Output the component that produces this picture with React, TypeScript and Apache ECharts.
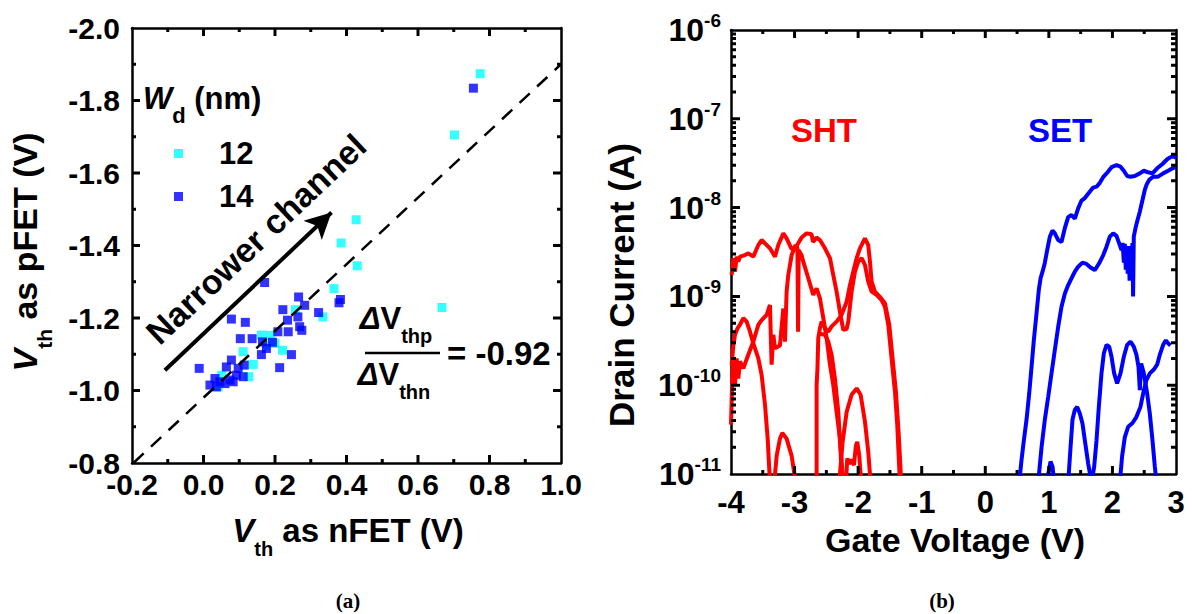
import { useEffect, useRef } from "react";
import * as echarts from "echarts";

type P = [number, number];

const FONT = "'Liberation Sans', Arial, Helvetica, sans-serif";
const SERIF = "'Liberation Serif', 'Times New Roman', serif";

// ---- tick values and labels ----
const nfetTickValues = [-0.2, 0.0, 0.2, 0.4, 0.6, 0.8, 1.0];
const nfetTicks = ["-0.2", "0.0", "0.2", "0.4", "0.6", "0.8", "1.0"];
const nfetMinor = [-0.1, 0.1, 0.3, 0.5, 0.7, 0.9];
const pfetTickValues = [-2.0, -1.8, -1.6, -1.4, -1.2, -1.0, -0.8];
const pfetTicks = ["-2.0", "-1.8", "-1.6", "-1.4", "-1.2", "-1.0", "-0.8"];
const pfetMinor = [-1.9, -1.7, -1.5, -1.3, -1.1, -0.9];
const gateTickValues = [-4, -3, -2, -1, 0, 1, 2, 3];
const gateTicks = ["-4", "-3", "-2", "-1", "0", "1", "2", "3"];
const gateMinor = [-3.5, -2.5, -1.5, -0.5, 0.5, 1.5, 2.5];
const currentTickValues = [1e-11, 1e-10, 1e-9, 1e-8, 1e-7, 1e-6];
const currentExponents = ["-11", "-10", "-9", "-8", "-7", "-6"];
const currentMinor: number[] = [];
for (let e = -11; e < -6; e++) for (let k = 2; k <= 9; k++) currentMinor.push(k * Math.pow(10, e));

// ---- panel (a): Vth as nFET vs Vth as pFET ----
const wd12: P[] = [
  [0.774, -1.874], [0.702, -1.705], [0.427, -1.471], [0.385, -1.407], [0.43, -1.344],
  [0.365, -1.281], [0.667, -1.229], [0.334, -1.203], [0.257, -1.223], [0.162, -1.153],
  [0.187, -1.152], [0.111, -1.107], [0.221, -1.111], [0.139, -1.072], [0.127, -1.038],
  [0.041, -1.01], [0.051, -1.042], [0.176, -1.125], [0.2, -1.13],
];
const wd14: P[] = [
  [0.755, -1.834], [0.171, -1.298], [0.266, -1.258], [0.283, -1.235], [0.222, -1.223],
  [0.322, -1.215], [0.383, -1.251], [0.379, -1.242], [0.078, -1.197], [0.117, -1.188],
  [0.235, -1.194], [0.264, -1.203], [0.269, -1.176], [0.275, -1.166], [0.237, -1.162],
  [0.208, -1.162], [0.103, -1.143], [0.136, -1.143], [0.165, -1.134], [0.193, -1.133],
  [0.176, -1.116], [0.162, -1.099], [0.246, -1.099], [0.213, -1.063], [-0.012, -1.061],
  [0.078, -1.084], [0.064, -1.065], [0.097, -1.061], [0.114, -1.07], [0.092, -1.042],
  [0.111, -1.038], [0.032, -1.033], [0.046, -1.024], [0.018, -1.015], [0.06, -1.019],
  [0.083, -1.024], [0.074, -1.029], [0.036, -1.01],
];
const fitLine: P[] = [[-0.196, -0.8], [1.0, -1.9]];
const narrowerArrow: P[] = [[-0.108, -1.056], [0.358, -1.491]];

// ---- panel (b): drain current vs gate voltage ----
const shtA: P[] = [
  [-3.99, 1.74e-9], [-3.963, 2.69e-9], [-3.937, 1.9e-9], [-3.911, 2.8e-9], [-3.885, 2.46e-9],
  [-3.858, 2.8e-9], [-3.78, 2.92e-9], [-3.728, 3.05e-9], [-3.649, 2.8e-9], [-3.57, 3.79e-9],
  [-3.518, 4.31e-9], [-3.465, 3.96e-9], [-3.387, 3.48e-9], [-3.308, 2.8e-9], [-3.256, 3.79e-9],
  [-3.177, 5.13e-9], [-3.125, 4.51e-9], [-3.046, 3.4e-9], [-2.967, 3.7e-9], [-2.889, 4.6e-9],
  [-2.81, 5.13e-9], [-2.732, 5.0e-9], [-2.71, 4.1e-9], [-2.653, 4.6e-9], [-2.601, 4.31e-9],
  [-2.522, 3.48e-9], [-2.443, 2.69e-9], [-2.391, 1.74e-9], [-2.339, 1.13e-9], [-2.286, 6.7e-10],
  [-2.234, 4.2e-10], [-2.181, 4.3e-10], [-2.155, 5.2e-10], [-2.103, 1.13e-9], [-2.05, 1.9e-9],
  [-1.998, 2.46e-9], [-1.945, 2.69e-9], [-1.893, 2.26e-9], [-1.841, 1.47e-9], [-1.788, 1.13e-9],
  [-1.71, 1.04e-9], [-1.631, 9.1e-10], [-1.579, 7.65e-10], [-1.526, 4.8e-10], [-1.474, 2.0e-10],
  [-1.421, 8.5e-11], [-1.385, 3.6e-11], [-1.343, 8e-12],
];
const shtB: P[] = [
  [-4.0, 3.6e-11], [-3.979, 1.3e-10], [-3.963, 2.0e-10], [-3.937, 1.0e-10], [-3.911, 2.0e-10],
  [-3.885, 1.19e-10], [-3.858, 1.85e-10], [-3.806, 1.55e-10], [-3.728, 2.2e-10], [-3.649, 3.1e-10],
  [-3.57, 4.8e-10], [-3.518, 5.4e-10], [-3.439, 6.2e-10], [-3.387, 8.0e-10], [-3.361, 1.7e-10],
  [-3.334, 3.7e-10], [-3.308, 2.6e-10], [-3.23, 2.8e-10], [-3.177, 7.3e-10], [-3.151, 3.1e-10],
  [-3.125, 1.13e-9], [-3.099, 1.74e-9], [-3.046, 2.92e-9], [-2.983, 3.79e-9], [-2.955, 3.5e-9],
  [-2.945, 4.0e-10], [-2.935, 3.3e-9], [-2.89, 2.9e-9], [-2.863, 2.46e-9], [-2.784, 1.6e-9],
  [-2.706, 1.04e-9], [-2.653, 1.23e-9], [-2.601, 9.5e-10], [-2.548, 5.7e-10], [-2.496, 3.4e-10],
  [-2.443, 1.7e-10], [-2.391, 1.0e-10], [-2.339, 5.0e-11], [-2.286, 2.5e-11], [-2.234, 8e-12],
];
const shtC: P[] = [
  [-3.99, 1.7e-10], [-3.963, 2.8e-10], [-3.937, 3.7e-10], [-3.895, 4.4e-10], [-3.858, 4.8e-10],
  [-3.806, 5.7e-10], [-3.754, 5.2e-10], [-3.701, 4.0e-10], [-3.649, 2.95e-10], [-3.57, 2.0e-10],
  [-3.518, 1.3e-10], [-3.465, 6.0e-11], [-3.423, 2.5e-11], [-3.387, 8e-12],
];
const shtD: P[] = [
  [-3.319, 8e-12], [-3.282, 1.6e-11], [-3.23, 2.5e-11], [-3.193, 2.9e-11], [-3.125, 2.5e-11],
  [-3.046, 1.6e-11], [-2.983, 8e-12],
];
const shtE: P[] = [
  [-2.653, 8e-12], [-2.653, 1.0e-10], [-2.64, 1.55e-10], [-2.627, 3.4e-10], [-2.601, 4.4e-10],
  [-2.574, 5.2e-10], [-2.522, 4.4e-10], [-2.47, 4.0e-10], [-2.417, 4.6e-10], [-2.339, 5.2e-10],
  [-2.26, 6.2e-10], [-2.181, 8.7e-10], [-2.129, 1.34e-9], [-2.077, 1.9e-9], [-2.024, 2.69e-9],
  [-1.972, 3.48e-9], [-1.893, 4.51e-9], [-1.841, 3.79e-9], [-1.814, 2.46e-9], [-1.788, 1.47e-9],
  [-1.736, 1.13e-9], [-1.657, 9.9e-10], [-1.579, 8.4e-10], [-1.51, 4.8e-10], [-1.458, 2.0e-10],
  [-1.406, 8.5e-11], [-1.364, 3.0e-11], [-1.322, 8e-12],
];
const shtF: P[] = [
  [-2.61, 3.8e-10], [-2.522, 3.7e-10], [-2.47, 3.1e-10], [-2.417, 2.2e-10], [-2.365, 1.19e-10],
  [-2.312, 5.0e-11], [-2.276, 1.78e-11], [-2.254, 8e-12],
];
const shtG: P[] = [
  [-2.297, 8e-12], [-2.244, 2.3e-11], [-2.181, 5.0e-11], [-2.103, 7.8e-11], [-2.024, 9.2e-11],
  [-1.961, 7.8e-11], [-1.893, 3.9e-11], [-1.841, 1.78e-11], [-1.804, 8e-12],
];
const shtH: P[] = [
  [-2.192, 8e-12], [-2.171, 1.5e-11], [-2.139, 1.3e-11], [-2.103, 1.45e-11], [-2.066, 1.26e-11],
  [-2.035, 2.1e-11], [-2.014, 2.3e-11], [-1.982, 1.6e-11], [-1.951, 8e-12],
];

const setA: P[] = [
  [0.534, 8e-12], [0.57, 1.44e-11], [0.607, 2.4e-11], [0.649, 4.1e-11], [0.691, 8.1e-11],
  [0.728, 1.62e-10], [0.764, 3.23e-10], [0.806, 6.44e-10], [0.843, 1.2e-9], [0.87, 1.6e-9],
  [0.905, 1.95e-9], [0.937, 2.4e-9], [0.974, 3.33e-9], [1.016, 4.71e-9], [1.058, 5.5e-9],
  [1.094, 5.13e-9], [1.147, 4.31e-9], [1.199, 4.1e-9], [1.252, 5.9e-9], [1.304, 7.8e-9],
  [1.356, 8.26e-9], [1.409, 7.5e-9], [1.461, 9.8e-9], [1.514, 1.2e-8], [1.566, 1.28e-8],
  [1.618, 1.43e-8], [1.697, 1.68e-8], [1.75, 1.72e-8], [1.802, 1.9e-8], [1.854, 2.2e-8],
  [1.917, 2.47e-8], [1.986, 2.85e-8], [2.064, 3.0e-8], [2.127, 2.89e-8], [2.179, 2.6e-8],
  [2.232, 2.27e-8], [2.284, 2.23e-8], [2.352, 2.27e-8], [2.431, 2.43e-8], [2.494, 2.6e-8],
  [2.562, 2.5e-8], [2.63, 2.43e-8], [2.703, 2.77e-8], [2.787, 3.1e-8], [2.861, 3.5e-8],
  [2.929, 3.75e-8], [2.981, 3.75e-8], [3.0, 3.6e-8],
];
const setB: P[] = [
  [0.832, 8e-12], [0.885, 2.0e-11], [0.937, 4.1e-11], [0.99, 7.4e-11], [1.042, 1.36e-10],
  [1.094, 2.49e-10], [1.147, 4.56e-10], [1.199, 7.65e-10], [1.252, 1.08e-9], [1.304, 1.34e-9],
  [1.356, 1.6e-9], [1.409, 1.9e-9], [1.461, 2.16e-9], [1.529, 2.4e-9], [1.592, 2.32e-9],
  [1.655, 2.12e-9], [1.723, 1.98e-9], [1.791, 2.36e-9], [1.854, 2.9e-9], [1.907, 3.63e-9],
  [1.959, 4.71e-9], [2.012, 5.13e-9], [2.064, 4.8e-9], [2.106, 3.96e-9], [2.143, 3.33e-9],
  [2.16, 4.0e-9], [2.18, 2.4e-9], [2.195, 3.9e-9], [2.21, 2.0e-9], [2.225, 3.7e-9],
  [2.24, 1.8e-9], [2.255, 3.6e-9], [2.27, 1.5e-9], [2.285, 3.7e-9], [2.3, 1.6e-9],
  [2.315, 4.0e-9], [2.325, 1.0e-9], [2.336, 4.71e-9], [2.368, 6.1e-9], [2.394, 7.2e-9],
  [2.431, 9.0e-9], [2.473, 1.22e-8], [2.509, 1.58e-8], [2.536, 1.8e-8], [2.578, 2.05e-8],
  [2.64, 2.23e-8], [2.719, 2.23e-8], [2.798, 2.43e-8], [2.876, 2.6e-8], [2.945, 2.77e-8],
  [3.0, 2.85e-8],
];
const setC: P[] = [
  [1.304, 8e-12], [1.341, 2.0e-11], [1.372, 4.1e-11], [1.409, 5.3e-11], [1.446, 5.7e-11],
  [1.487, 4.8e-11], [1.529, 3.7e-11], [1.566, 2.4e-11], [1.618, 1.32e-11], [1.671, 8e-12],
  [1.713, 1.21e-11], [1.75, 2.4e-11], [1.786, 5.7e-11], [1.828, 1.36e-10], [1.865, 2.29e-10],
  [1.907, 2.85e-10], [1.949, 2.72e-10], [1.986, 2.09e-10], [2.027, 1.36e-10], [2.074, 1.05e-10],
  [2.127, 1.36e-10], [2.179, 2.09e-10], [2.232, 2.85e-10], [2.284, 3.1e-10], [2.336, 2.72e-10],
  [2.378, 2.2e-10], [2.41, 1.62e-10], [2.431, 8.8e-11], [2.452, 1.76e-10], [2.494, 1.36e-10],
  [2.546, 8.1e-11], [2.588, 4.8e-11], [2.63, 2.4e-11], [2.667, 1.21e-11], [2.693, 8e-12],
];
const setD: P[] = [
  [2.116, 8e-12], [2.153, 1.6e-11], [2.195, 2.6e-11], [2.247, 3.4e-11], [2.316, 3.75e-11],
  [2.378, 4.4e-11], [2.441, 5.7e-11], [2.494, 8.8e-11], [2.536, 1.15e-10], [2.588, 1.36e-10],
  [2.651, 1.5e-10], [2.703, 1.7e-10], [2.745, 2.2e-10], [2.798, 2.85e-10], [2.84, 3.2e-10],
  [2.876, 2.96e-10], [2.913, 2.8e-10],
];
const setE: P[] = [
  [0.963, 8e-12], [0.99, 1.0e-11], [1.026, 1.38e-11], [1.058, 1.21e-11], [1.084, 8e-12],
];

const shtCurves = [shtA, shtB, shtC, shtD, shtE, shtF, shtG, shtH];
const setCurves = [setA, setB, setC, setD, setE];

// ---- layout ----
const GRID_A = { left: 132, top: 28, width: 429, height: 435 };
const GRID_B = { left: 731, top: 30, width: 445, height: 444 };
const RANGE_A = { x: [-0.2, 1.0], y: [-2.0, -0.8] };
const RANGE_B = { x: [-4, 3], decades: 5 };

const BLACK = "#000";
const axisLine = { show: true, onZero: false, lineStyle: { color: BLACK, width: 2.5 } };
const labelBase = { color: BLACK, fontFamily: FONT, fontWeight: "bold" as const };

// Inward tick marks as short line segments through the axis scales (segments separated by gaps).
function tickSeries(grid: 0 | 1, side: "l" | "r" | "b" | "t", edge: number, values: number[], len: number) {
  const horizontal = side === "l" || side === "r";
  let inner: number;
  if (horizontal) {
    const pxPerX = grid === 0
      ? GRID_A.width / (RANGE_A.x[1] - RANGE_A.x[0])
      : GRID_B.width / (RANGE_B.x[1] - RANGE_B.x[0]);
    inner = side === "l" ? edge + len / pxPerX : edge - len / pxPerX;
  } else if (grid === 0) {
    const pxPerY = GRID_A.height / (RANGE_A.y[1] - RANGE_A.y[0]);
    inner = side === "b" ? edge - len / pxPerY : edge + len / pxPerY; // inverted axis
  } else {
    const f = Math.pow(10, len / (GRID_B.height / RANGE_B.decades));
    inner = side === "b" ? edge * f : edge / f;
  }
  const data: any[] = [];
  values.forEach((v) => {
    if (horizontal) data.push([edge, v], [inner, v]);
    else data.push([v, edge], [v, inner]);
    data.push(["-", "-"]);
  });
  return {
    type: "line", xAxisIndex: grid * 2, yAxisIndex: grid * 2, data,
    symbol: "none", showSymbol: false, connectNulls: false, silent: true,
    lineStyle: { color: BLACK, width: 3, cap: "butt" }, z: 6,
  };
}

function buildOption(): any {
  const tickOff = { show: false };
  const xA = (pos: "bottom" | "top", show: boolean) => ({
    type: "value", gridIndex: 0, position: pos, min: -0.2, max: 1.0, interval: 0.2,
    axisLine, axisTick: tickOff, splitLine: { show: false },
    axisLabel: {
      show, ...labelBase, fontSize: 30, margin: 6,
      formatter: (v: number) => nfetTicks[Math.round((v + 0.2) / 0.2)] ?? "",
    },
  });
  const yA = (pos: "left" | "right", show: boolean) => ({
    type: "value", gridIndex: 0, position: pos, min: -2.0, max: -0.8, interval: 0.2, inverse: true,
    axisLine, axisTick: tickOff, splitLine: { show: false },
    axisLabel: {
      show, ...labelBase, fontSize: 30, margin: 12,
      formatter: (v: number) => pfetTicks[Math.round((v + 2.0) / 0.2)] ?? "",
    },
  });
  const xB = (pos: "bottom" | "top", show: boolean) => ({
    type: "value", gridIndex: 1, position: pos, min: -4, max: 3, interval: 1,
    axisLine, axisTick: tickOff, splitLine: { show: false },
    axisLabel: {
      show, ...labelBase, fontSize: 31, margin: 13,
      formatter: (v: number) => gateTicks[Math.round(v + 4)] ?? "",
    },
  });
  const yB = (pos: "left" | "right", show: boolean) => ({
    type: "log", logBase: 10, gridIndex: 1, position: pos, min: 1e-11, max: 1e-6,
    axisLine, axisTick: tickOff, splitLine: { show: false },
    axisLabel: {
      show, margin: 10,
      formatter: (v: number) => `{m|10}{s|${currentExponents[Math.round(Math.log10(v) + 11)] ?? ""}}`,
      rich: {
        m: { ...labelBase, fontSize: 32 },
        s: { ...labelBase, fontSize: 19, padding: [0, 0, 19, 0] },
      },
    },
  });

  const sub = (size: number, pad: number) => ({
    fontFamily: FONT, fontWeight: "bold", fill: BLACK, fontSize: size, padding: [pad, 0, 0, 0],
  });
  const main = (size: number, italic = false) => ({
    fontFamily: FONT, fontWeight: "bold", fill: BLACK, fontSize: size,
    fontStyle: italic ? "italic" : "normal",
  });

  const graphic: any[] = [
    {
      type: "text", x: 143, y: 98, silent: true,
      style: {
        text: "{w|W}{d|d}{n| (nm)}", align: "left", verticalAlign: "middle",
        rich: { w: main(31, true), d: sub(22, 34), n: main(31) },
      },
    },
    {
      type: "text", x: 256, y: 239, rotation: (43.4 * Math.PI) / 180, silent: true,
      style: {
        text: "Narrower channel", align: "center", verticalAlign: "middle",
        fontFamily: FONT, fontWeight: "bold", fontSize: 34, fill: BLACK,
      },
    },
    {
      type: "text", x: 396, y: 318, silent: true,
      style: {
        text: "{d|Δ}{v|V}{s|thp}", align: "center", verticalAlign: "middle",
        rich: { d: main(31, true), v: main(31), s: sub(20, 35) },
      },
    },
    {
      type: "text", x: 394, y: 374, silent: true,
      style: {
        text: "{d|Δ}{v|V}{s|thn}", align: "center", verticalAlign: "middle",
        rich: { d: main(31, true), v: main(31), s: sub(20, 35) },
      },
    },
    {
      type: "line", silent: true,
      shape: { x1: 365, y1: 353, x2: 440, y2: 353 },
      style: { stroke: BLACK, lineWidth: 2.5 },
    },
    {
      type: "text", x: 447, y: 353, silent: true,
      style: {
        text: "= -0.92", align: "left", verticalAlign: "middle",
        fontFamily: FONT, fontWeight: "bold", fontSize: 33, fill: BLACK,
      },
    },
    {
      type: "text", x: 25, y: 252, rotation: Math.PI / 2, silent: true,
      style: {
        text: "{v|V}{s|th}{n| as pFET (V)}", align: "center", verticalAlign: "middle",
        rich: { v: main(34, true), s: sub(21, 38), n: main(34) },
      },
    },
    {
      type: "text", x: 348, y: 530, silent: true,
      style: {
        text: "{v|V}{s|th}{n| as nFET (V)}", align: "center", verticalAlign: "middle",
        rich: { v: main(33, true), s: sub(20, 38), n: main(33) },
      },
    },
    {
      type: "text", x: 621, y: 285, rotation: Math.PI / 2, silent: true,
      style: {
        text: "Drain Current (A)", align: "center", verticalAlign: "middle",
        fontFamily: FONT, fontWeight: "bold", fontSize: 35, fill: BLACK,
      },
    },
    {
      type: "text", x: 955, y: 540, silent: true,
      style: {
        text: "Gate Voltage (V)", align: "center", verticalAlign: "middle",
        fontFamily: FONT, fontWeight: "bold", fontSize: 34, fill: BLACK,
      },
    },
    {
      type: "text", x: 824, y: 130, silent: true,
      style: {
        text: "SHT", align: "center", verticalAlign: "middle",
        fontFamily: FONT, fontWeight: "bold", fontSize: 33, fill: "#FF0000",
      },
    },
    {
      type: "text", x: 1060, y: 130, silent: true,
      style: {
        text: "SET", align: "center", verticalAlign: "middle",
        fontFamily: FONT, fontWeight: "bold", fontSize: 33, fill: "#0000FF",
      },
    },
    {
      type: "text", x: 348, y: 601, silent: true,
      style: {
        text: "(a)", align: "center", verticalAlign: "middle",
        fontFamily: SERIF, fontWeight: "bold", fontSize: 21, fill: BLACK,
      },
    },
    {
      type: "text", x: 942, y: 601, silent: true,
      style: {
        text: "(b)", align: "center", verticalAlign: "middle",
        fontFamily: SERIF, fontWeight: "bold", fontSize: 21, fill: BLACK,
      },
    },
  ];

  const series: any[] = [
    {
      name: "12", type: "scatter", xAxisIndex: 0, yAxisIndex: 0, data: wd12,
      symbol: "rect", symbolSize: 9, itemStyle: { color: "#00FFFF" },
    },
    {
      name: "14", type: "scatter", xAxisIndex: 0, yAxisIndex: 0, data: wd14,
      symbol: "rect", symbolSize: 9, itemStyle: { color: "#0000FF" },
    },
    {
      name: "slope", type: "line", xAxisIndex: 0, yAxisIndex: 0, data: fitLine,
      symbol: "none", silent: true,
      lineStyle: { color: BLACK, width: 2.5, type: [14, 10] },
      markLine: {
        silent: true, symbol: ["none", "arrow"], symbolSize: [20, 26],
        label: { show: false },
        lineStyle: { color: BLACK, width: 4, type: "solid" },
        data: [[{ coord: narrowerArrow[0] }, { coord: narrowerArrow[1] }]],
      },
    },
    ...shtCurves.map((d, i) => ({
      name: `SHT ${i + 1}`, type: "line", xAxisIndex: 2, yAxisIndex: 2, data: d,
      symbol: "none", silent: true, clip: true,
      lineStyle: { color: "#FF0000", width: 4 },
    })),
    ...setCurves.map((d, i) => ({
      name: `SET ${i + 1}`, type: "line", xAxisIndex: 2, yAxisIndex: 2, data: d,
      symbol: "none", silent: true, clip: true,
      lineStyle: { color: "#0000FF", width: 4 },
    })),
    // panel (a) ticks
    tickSeries(0, "b", -0.8, nfetTickValues.slice(1, -1), 8),
    tickSeries(0, "b", -0.8, nfetMinor, 4),
    tickSeries(0, "t", -2.0, nfetTickValues.slice(1, -1), 8),
    tickSeries(0, "t", -2.0, nfetMinor, 4),
    tickSeries(0, "l", -0.2, pfetTickValues.slice(1, -1), 8),
    tickSeries(0, "l", -0.2, pfetMinor, 4),
    tickSeries(0, "r", 1.0, pfetTickValues.slice(1, -1), 8),
    tickSeries(0, "r", 1.0, pfetMinor, 4),
    // panel (b) ticks
    tickSeries(1, "b", 1e-11, gateTickValues.slice(1, -1), 8),
    tickSeries(1, "b", 1e-11, gateMinor, 4),
    tickSeries(1, "t", 1e-6, gateTickValues.slice(1, -1), 8),
    tickSeries(1, "t", 1e-6, gateMinor, 4),
    tickSeries(1, "l", -4, currentTickValues.slice(1, -1), 9),
    tickSeries(1, "l", -4, currentMinor, 5),
    tickSeries(1, "r", 3, currentTickValues.slice(1, -1), 9),
    tickSeries(1, "r", 3, currentMinor, 5),
  ];

  return {
    animation: false,
    backgroundColor: "#fff",
    grid: [GRID_A, GRID_B],
    xAxis: [xA("bottom", true), xA("top", false), xB("bottom", true), xB("top", false)],
    yAxis: [yA("left", true), yA("right", false), yB("left", true), yB("right", false)],
    legend: {
      data: ["12", "14"], orient: "vertical", left: 169, top: 133,
      itemWidth: 9, itemHeight: 9, itemGap: 12, icon: "rect", selectedMode: false,
      textStyle: { ...labelBase, fontSize: 31, padding: [0, 0, 0, 31] },
    },
    graphic,
    series,
  };
}

export default function App() {
  const ref = useRef<HTMLDivElement>(null);
  useEffect(() => {
    document.body.style.margin = "0";
    if (!ref.current) return;
    const chart = echarts.init(ref.current, undefined, { renderer: "svg" });
    chart.setOption(buildOption());
    return () => chart.dispose();
  }, []);
  return <div ref={ref} style={{ width: 1192, height: 614, background: "#fff" }} />;
}
